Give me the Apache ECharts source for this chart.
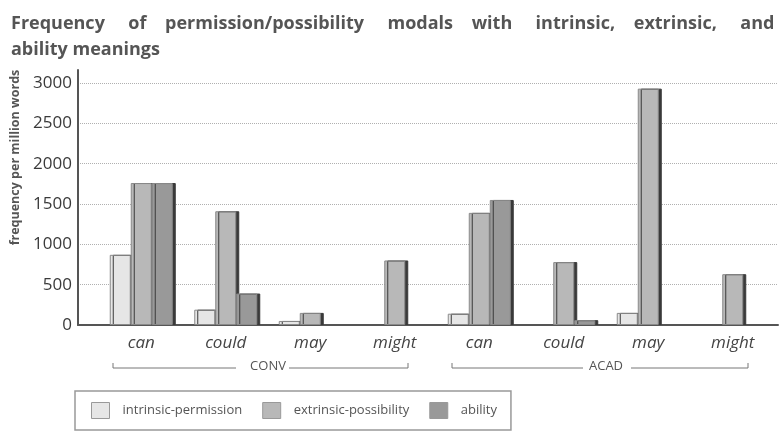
<!DOCTYPE html>
<html>
<head>
<meta charset="utf-8">
<script src="https://cdn.jsdelivr.net/npm/echarts@6/dist/echarts.min.js"></script>
<style>
  html, body { margin: 0; padding: 0; background: #fff; }
  #chart { width: 780px; height: 431px; }
</style>
</head>
<body>
<div id="chart"></div>
<script>
// modal verbs, conversation then academic prose
var modals = ['can', 'could', 'may', 'might', 'can', 'could', 'may', 'might'];
var registers = ['CONV', 'ACAD'];
var yTicks = [0, 500, 1000, 1500, 2000, 2500, 3000];

// frequency per million words
var intrinsicPermission = [870, 190, 50, null, 140, null, 150, null];
var extrinsicPossibility = [1760, 1410, 150, 800, 1390, 780, 2930, 630];
var ability = [1760, 390, null, null, 1550, 60, null, null];

var font = "'Open Sans', 'Noto Sans', sans-serif";

function barSeries(name, data, color) {
  return {
    name: name,
    type: 'bar',
    xAxisIndex: 2,
    yAxisIndex: 2,
    barWidth: 21,
    barGap: '0%',
    data: data,
    itemStyle: {
      color: color,
      borderColor: '#8a8a8a',
      borderWidth: 1,
      shadowColor: '#3a3a3a',
      shadowOffsetX: 3,
      shadowOffsetY: 0,
      shadowBlur: 0
    }
  };
}

document.addEventListener("DOMContentLoaded", () => {
  var chart = echarts.init(document.querySelector("#chart"));
  chart.setOption({
    animation: false,
    title: {
      // extra spaces stand in for the justified line of the original
      text: 'Frequency     of    permission/possibility     modals    with     intrinsic,    extrinsic,     and\nability meanings',
      left: 6,
      top: 6,
      textStyle: {
        fontFamily: font,
        fontSize: 18,
        fontWeight: 'bold',
        color: '#555',
        lineHeight: 26
      }
    },
    legend: {
      left: 75,
      top: 391,
      padding: [11, 14, 11, 16],
      borderColor: '#999',
      borderWidth: 1.5,
      itemWidth: 18,
      itemHeight: 16,
      itemGap: 20,
      icon: 'rect',
      itemStyle: { shadowColor: 'transparent', borderColor: '#999', borderWidth: 1 },
      textStyle: { fontFamily: font, fontSize: 13, color: '#555', padding: [0, 0, 0, 8] },
      data: ['intrinsic-permission', 'extrinsic-possibility', 'ability']
    },
    grid: [
      { left: 78, right: 2, top: 83, bottom: 106 },
      { left: 78, right: 2, top: 70, bottom: 106 },
      { left: 99, right: 5, top: 83, bottom: 106 }
    ],
    xAxis: [
      { gridIndex: 0, type: 'value', show: false },
      {
        gridIndex: 1, type: 'value',
        axisLine: { show: true, lineStyle: { color: '#555', width: 2 } },
        axisTick: { show: false }, axisLabel: { show: false }, splitLine: { show: false }
      },
      {
        gridIndex: 2, type: 'category', data: modals, position: 'bottom',
        axisLine: { show: false }, axisTick: { show: false },
        axisLabel: { fontFamily: font, fontSize: 17, fontStyle: 'italic', color: '#444', margin: 10 }
      },
      {
        gridIndex: 2, type: 'category', data: registers, position: 'bottom', offset: 0,
        axisLine: { show: false }, axisTick: { show: false },
        axisLabel: { fontFamily: font, fontSize: 13, color: '#555', margin: 35 }
      }
    ],
    yAxis: [
      {
        gridIndex: 0, type: 'value', min: yTicks[0], max: yTicks[yTicks.length - 1], interval: 500,
        axisLine: { show: false }, axisTick: { show: false },
        axisLabel: { fontFamily: font, fontSize: 17, color: '#3a3a3a', margin: 6, formatter: function (v) { return String(v); } },
        splitLine: { lineStyle: { color: '#b0b0b0', type: 'dotted', width: 1 } }
      },
      {
        gridIndex: 1, type: 'value',
        axisLine: { show: true, lineStyle: { color: '#555', width: 2 } },
        axisTick: { show: false }, axisLabel: { show: false }, splitLine: { show: false },
        name: 'frequency per million words',
        nameLocation: 'middle',
        nameRotate: 90,
        nameGap: 56,
        nameTextStyle: { fontFamily: font, fontSize: 12.5, fontWeight: 'bold', color: '#555', padding: [0, 0, 0, 80] }
      },
      { gridIndex: 2, type: 'value', min: 0, max: 3000, show: false }
    ],
    graphic: [
      { type: 'polyline', shape: { points: [[113, 363], [113, 368], [236, 368]] }, style: { stroke: '#777', lineWidth: 1, fill: null } },
      { type: 'polyline', shape: { points: [[289, 368], [408, 368], [408, 363]] }, style: { stroke: '#777', lineWidth: 1, fill: null } },
      { type: 'polyline', shape: { points: [[452, 363], [452, 368], [583, 368]] }, style: { stroke: '#777', lineWidth: 1, fill: null } },
      { type: 'polyline', shape: { points: [[631, 368], [748, 368], [748, 363]] }, style: { stroke: '#777', lineWidth: 1, fill: null } }
    ],
    series: [
      barSeries('intrinsic-permission', intrinsicPermission, '#e6e6e6'),
      barSeries('extrinsic-possibility', extrinsicPossibility, '#b8b8b8'),
      barSeries('ability', ability, '#999999')
    ]
  });
});
</script>
</body>
</html>
